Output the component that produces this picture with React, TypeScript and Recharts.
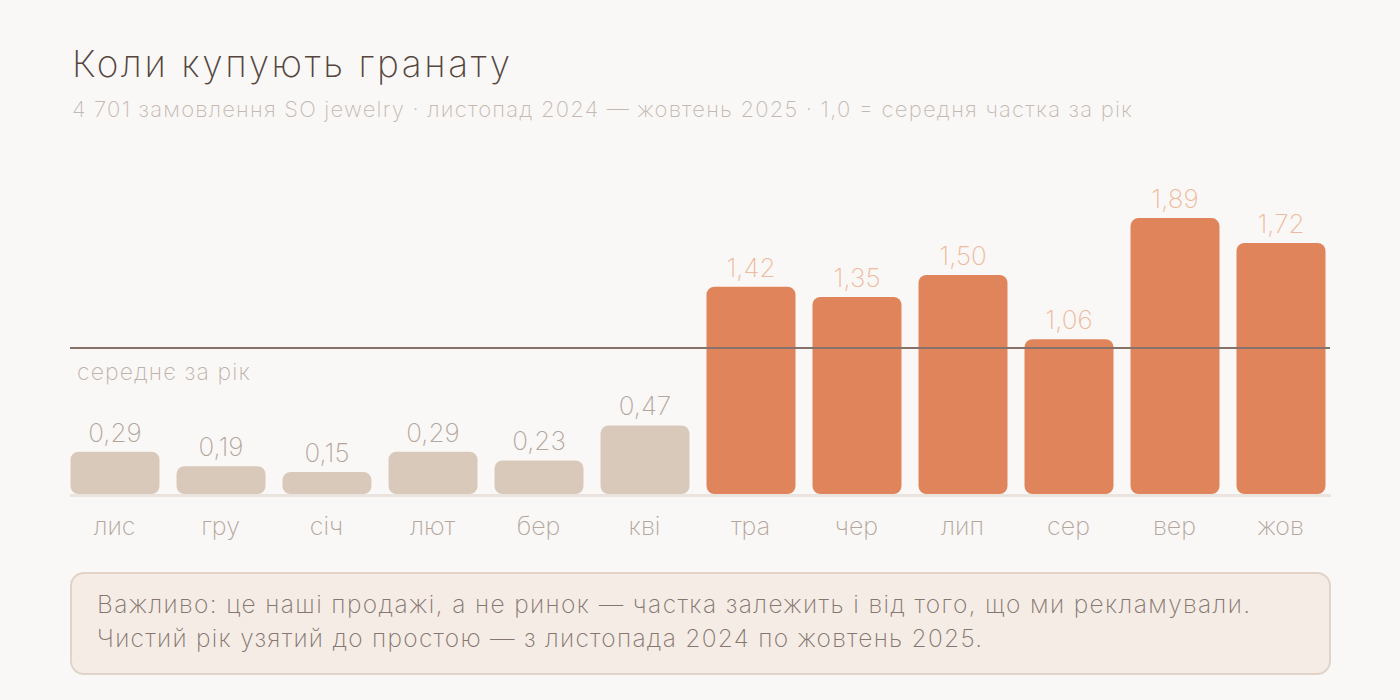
import React from 'react';
import { BarChart, Bar, XAxis, YAxis, ReferenceLine, LabelList, Cell } from 'recharts';

const months = ['лис', 'гру', 'січ', 'лют', 'бер', 'кві', 'тра', 'чер', 'лип', 'сер', 'вер', 'жов'];
const shares = [0.29, 0.19, 0.15, 0.29, 0.23, 0.47, 1.42, 1.35, 1.5, 1.06, 1.89, 1.72];
const averageValue = 1;
const titleText = 'Коли купують гранату';
const subtitleText = '4 701 замовлення SO jewelry · листопад 2024 — жовтень 2025 · 1,0 = середня частка за рік';
const averageLabel = 'середнє за рік';
const noteLines = [
  'Важливо: це наші продажі, а не ринок — частка залежить і від того, що ми рекламували.',
  'Чистий рік узятий до простою — з листопада 2024 по жовтень 2025.',
];

const data = months.map((m, i) => ({ m, v: shares[i] }));

const FONT = 'Inter, "Noto Sans", sans-serif';
const BG = '#faf8f6';
const LOW = '#d9c9bb';
const HIGH = '#e0855b';
const LOW_LABEL = '#b3a69d';
const HIGH_LABEL = '#efb99c';

const fmt = (v: number) => v.toFixed(2).replace('.', ',');

const Tick = (props: any) => {
  const { x, y, payload } = props;
  return (
    <text x={x} y={y + 41} textAnchor="middle" fontFamily={FONT} fontWeight={200} fontSize={25} fill="#b3a69d">
      {payload.value}
    </text>
  );
};

const ValueLabel = (props: any) => {
  const { x, y, width, value } = props;
  const high = value > averageValue;
  return (
    <text x={x + width / 2} y={y - 10} textAnchor="middle" fontFamily={FONT} fontWeight={200} fontSize={26} fill={high ? HIGH_LABEL : LOW_LABEL}>
      {fmt(value)}
    </text>
  );
};

const AvgLine = (props: any) => {
  const { x1, x2, y1 } = props;
  return <line x1={x1 + 8.5} x2={x2 - 3.5} y1={y1} y2={y1} stroke="#86726a" strokeWidth={2} />;
};

const BaseLine = (props: any) => {
  const { x1, x2, y1 } = props;
  return <line x1={x1 + 8.5} x2={x2 - 2.5} y1={y1 + 1.5} y2={y1 + 1.5} stroke="#ebe4de" strokeWidth={3} />;
};

export default function App() {
  return (
    <div style={{ position: 'absolute', left: 0, top: 0, width: 1400, height: 700, background: BG, overflow: 'hidden' }}>
      <div style={{ position: 'absolute', left: 0, top: 0 }}>
        <BarChart width={1400} height={560} data={data} margin={{ top: 202, left: 61.5, right: 66.5, bottom: 36 }} barSize={89}>
          <YAxis hide domain={[0, 2]} />
          <XAxis dataKey="m" axisLine={false} tickLine={false} tickSize={0} tickMargin={0} interval={0} tick={<Tick />} height={30} />
          <ReferenceLine y={0} shape={<BaseLine />} />
          <Bar dataKey="v" radius={8} isAnimationActive={false}>
            {data.map((d, i) => (
              <Cell key={i} fill={d.v > averageValue ? HIGH : LOW} />
            ))}
            <LabelList dataKey="v" content={<ValueLabel />} />
          </Bar>
          <ReferenceLine y={averageValue} shape={<AvgLine />} />
        </BarChart>
      </div>
      <svg width={1400} height={700} style={{ position: 'absolute', left: 0, top: 0, pointerEvents: 'none' }}>
        <text x={72} y={77} fontFamily={FONT} fontWeight={200} fontSize={37} fill="#54463f" textLength={438} lengthAdjust="spacing">
          {titleText}
        </text>
        <text x={72} y={116.5} fontFamily={FONT} fontWeight={200} fontSize={22} fill="#c4b9b2" textLength={1060} lengthAdjust="spacing">
          {subtitleText}
        </text>
        <text x={77} y={380} fontFamily={FONT} fontWeight={200} fontSize={23} fill="#bfb2aa" textLength={173} lengthAdjust="spacing">
          {averageLabel}
        </text>
        <rect x={71} y={573} width={1259} height={101} rx={13} fill="#f5ece6" stroke="#e1d3c8" strokeWidth={2} />
        <text x={97} y={613} fontFamily={FONT} fontWeight={200} fontSize={24.5} fill="#85766f" textLength={1153} lengthAdjust="spacing">
          {noteLines[0]}
        </text>
        <text x={97} y={646.5} fontFamily={FONT} fontWeight={200} fontSize={24.5} fill="#85766f" textLength={885} lengthAdjust="spacing">
          {noteLines[1]}
        </text>
      </svg>
    </div>
  );
}
